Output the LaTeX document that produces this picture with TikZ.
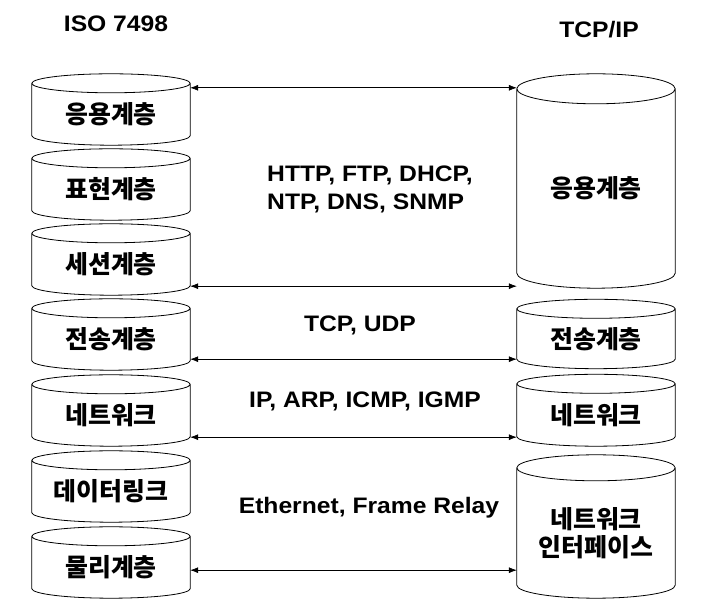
\documentclass[tikz,border=0pt]{standalone}
\usepackage{fontspec}
\setmainfont{Liberation Sans}[FakeStretch=1.1]
\newfontfamily\kr{Noto Sans CJK KR}
\usetikzlibrary{arrows.meta,calc}
\tikzset{
  cylline/.style={draw=black, line width=0.8bp},
  cylnode/.style={rectangle, draw=none, inner sep=0pt, minimum width=158bp,
    align=center, font=\kr\bfseries\fontsize{25}{28}\selectfont},
  lbl/.style={inner sep=0pt, align=center, font=\bfseries\fontsize{22.5}{28}\selectfont},
  conn/.style={{Latex[length=8bp,width=6bp]}-{Latex[length=8bp,width=6bp]}, line width=0.7bp, draw=black}
}
\newcommand\cylout[2]{%
  \draw[cylline] let \p1=(#1.north west), \p2=(#1.south east), \n1={(\x2-\x1)/2} in
    (\x1,\y1) -- (\x1,\y2+#2bp) arc[start angle=180, end angle=360, x radius=\n1, y radius=#2bp] -- (\x2,\y1)
    (\x1+\n1,\y1) ellipse[x radius=\n1, y radius=#2bp];
}
\begin{document}
\begin{tikzpicture}[x=1bp,y=1bp]
\useasboundingbox (0,0) rectangle (715,600);
% left stack (ISO 7498)
\node[cylnode, minimum height=61.5bp] (L1) at (111,485.75) {응용계층};
\node[cylnode, minimum height=61.5bp] (L2) at (111,410.75) {표현계층};
\node[cylnode, minimum height=61.5bp] (L3) at (111,335.75) {세션계층};
\node[cylnode, minimum height=61.5bp] (L4) at (111,260.75) {전송계층};
\node[cylnode, minimum height=61.5bp] (L5) at (111,184.75) {네트워크};
\node[cylnode, minimum height=61.5bp] (L6) at (111,108.75) {데이터링크};
\node[cylnode, minimum height=61.5bp] (L7) at (111,32.75) {물리계층};
\cylout{L1}{9.5}
\cylout{L2}{9.5}
\cylout{L3}{9.5}
\cylout{L4}{9.5}
\cylout{L5}{9.5}
\cylout{L6}{9.5}
\cylout{L7}{9.5}
% right stack (TCP/IP)
\node[cylnode, minimum height=199bp] (R1) at (596,411.5) {응용계층};
\node[cylnode, minimum height=59.5bp] (R2) at (596,261.25) {전송계층};
\node[cylnode, minimum height=62bp] (R3) at (596,185) {네트워크};
\node[cylnode, minimum height=130bp] (R4) at (596,67) {네트워크\\인터페이스};
\cylout{R1}{15}
\cylout{R2}{9.5}
\cylout{R3}{9.5}
\cylout{R4}{13}
% titles
\node[lbl] (iso) at (116,576) {ISO 7498};
\node[lbl] (tcpip) at (599,570) {TCP/IP};
% protocol labels
\node[lbl, align=left] (app) at (370,411) {HTTP, FTP, DHCP,\\NTP, DNS, SNMP};
\node[lbl] (tr) at (360,275) {TCP, UDP};
\node[lbl] (nw) at (365,199) {IP, ARP, ICMP, IGMP};
\node[lbl] (ll) at (369,92) {Ethernet, Frame Relay};
% connectors
\draw[conn] ([yshift=-4.5bp]L1.north east) -- ([yshift=-4.5bp]L1.north east -| R1.west);
\draw[conn] ([yshift=9bp]L3.south east) -- ([yshift=9bp]L3.south east -| R1.west);
\draw[conn] ([yshift=11bp]L4.south east) -- ([yshift=11bp]L4.south east -| R2.west);
\draw[conn] ([yshift=9bp]L5.south east) -- ([yshift=9bp]L5.south east -| R3.west);
\draw[conn] ([yshift=28bp]L7.south east) -- ([yshift=28bp]L7.south east -| R4.west);
\end{tikzpicture}
\end{document}
